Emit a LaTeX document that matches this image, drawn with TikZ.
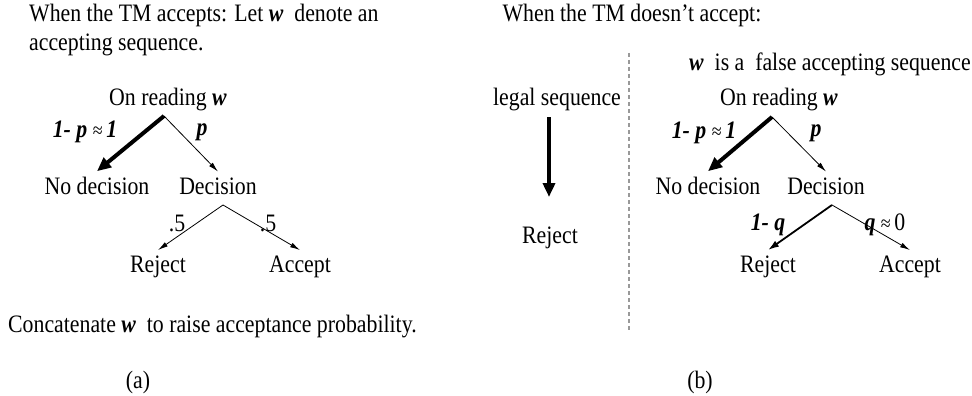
\documentclass[tikz,border=0pt]{standalone}
\usepackage{fontspec}
\setmainfont{Liberation Serif}
\usetikzlibrary{arrows.meta}

\newcommand{\bw}{\textbf{\textit{w}}}
\newcommand{\bi}[1]{\textbf{\textit{#1}}}
\newcommand{\aprx}{{\fontsize{18}{18}\selectfont ≈}}

\begin{document}
\begin{tikzpicture}[x=1pt, y=-1pt,
  every node/.style={font=\fontsize{21.8}{24.5}\selectfont, inner xsep=1pt, inner ysep=5pt, yscale=1.15, transform shape},
  heavy/.style={line width=4pt, -{Triangle[length=14pt, width=12pt]}},
  light/.style={line width=0.8pt, -{Latex[length=10pt, width=5pt]}},
  medium/.style={line width=1.8pt, -{Latex[length=11pt, width=7pt]}}]

  \useasboundingbox (0,0) rectangle (972,396);

  % -- Panel (a) --
  \node[anchor=west, align=left] (headA) at (28,30) {When the TM accepts: Let \bw~ denote an\\accepting sequence.};

  \node (readA) at (168,100) {On reading \bw};
  \coordinate (forkA) at (164,116);
  \node (nodecA) at (97,186) {No decision};
  \node (decA) at (218,186) {Decision};
  \draw[heavy] (forkA) -- (nodecA.north);
  \draw[light] (forkA) -- (decA.north);
  \node (lpA) at (85,132) {\bi{1- p} \aprx\,\bi{1}};
  \node (pA) at (202,132) {\bi{p}};

  \coordinate (forkDA) at (223,205);
  \node (rejA) at (158,267) {Reject};
  \node (accA) at (300,267) {Accept};
  \draw[light] (forkDA) -- (rejA.north);
  \draw[light] (forkDA) -- (accA.north);
  \node (halfL) at (177,223) {.5};
  \node (halfR) at (268,223) {.5};

  \node[anchor=west] (concat) at (7,327) {Concatenate \bw~ to raise acceptance probability.};
  \node (capA) at (138,382) {(a)};

  % -- Panel (b) --
  \node (headB) at (632,15) {When the TM doesn't accept:};
  \draw[gray!80, line width=1.2pt, dash pattern=on 4pt off 3pt] (629,53) -- (629,330);

  \node (legal) at (557,100) {legal sequence};
  \node (rejL) at (550,238) {Reject};
  \coordinate (legalEnd) at (549,197);
  \draw[heavy] (legal.south -| legalEnd) -- (legalEnd);

  \node[anchor=west] (falseB) at (688,64) {\bw~ is a~ false accepting sequence};
  \node (readB) at (779,100) {On reading \bw};
  \coordinate (forkB) at (772,117);
  \node (nodecB) at (708,186) {No decision};
  \node (decB) at (826,186) {Decision};
  \draw[heavy] (forkB) -- (nodecB.north);
  \draw[light] (forkB) -- (decB.north);
  \node (lpB) at (704,133) {\bi{1- p} \aprx\,\bi{1}};
  \node (pB) at (816,133) {\bi{p}};

  \coordinate (forkDB) at (832,205);
  \node (rejB) at (768,267) {Reject};
  \node (accB) at (910,267) {Accept};
  \draw[medium] (forkDB) -- (rejB.north);
  \draw[light] (forkDB) -- (accB.north);
  \node (lqB) at (768,225) {\bi{1- q}};
  \node (qB) at (885,225) {\bi{q} \aprx\,0};

  \node (capB) at (700,382) {(b)};

\end{tikzpicture}
\end{document}
